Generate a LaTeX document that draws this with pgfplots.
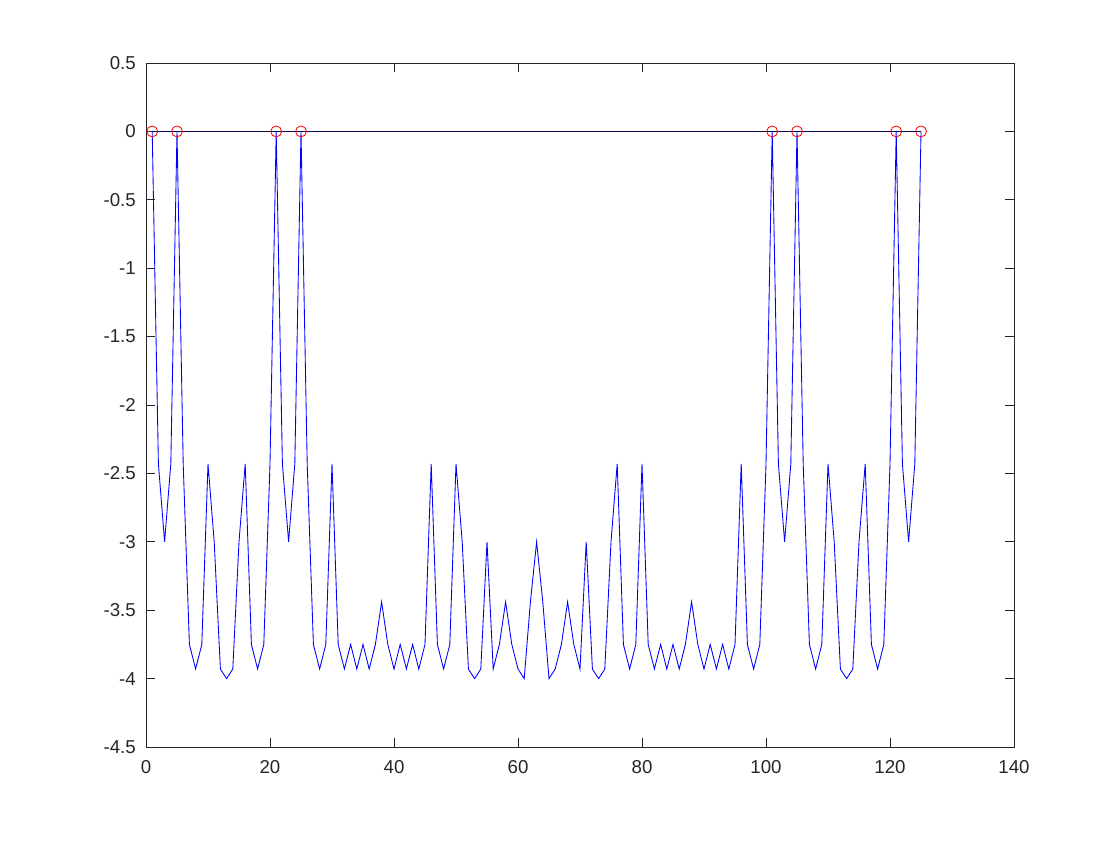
\documentclass[border=0pt]{standalone}
\usepackage{pgfplots}
\pgfplotsset{compat=1.18}
\usepackage{pgfplotstable}
\usepackage{fontspec}
\setmainfont{Liberation Sans}
\pgfplotstableread{
x y
1 0
2 -2.43
3 -3
4 -2.43
5 0
6 -2.43
7 -3.75
8 -3.93
9 -3.75
10 -2.43
11 -3
12 -3.93
13 -4
14 -3.93
15 -3
16 -2.43
17 -3.75
18 -3.93
19 -3.75
20 -2.43
21 0
22 -2.43
23 -3
24 -2.43
25 0
26 -2.43
27 -3.75
28 -3.93
29 -3.75
30 -2.43
31 -3.75
32 -3.93
33 -3.75
34 -3.93
35 -3.75
36 -3.93
37 -3.75
38 -3.44
39 -3.75
40 -3.93
41 -3.75
42 -3.93
43 -3.75
44 -3.93
45 -3.75
46 -2.43
47 -3.75
48 -3.93
49 -3.75
50 -2.43
51 -3
52 -3.93
53 -4
54 -3.93
55 -3
56 -3.93
57 -3.75
58 -3.44
59 -3.75
60 -3.93
61 -4
62 -3.44
63 -3
64 -3.44
65 -4
66 -3.93
67 -3.75
68 -3.44
69 -3.75
70 -3.93
71 -3
72 -3.93
73 -4
74 -3.93
75 -3
76 -2.43
77 -3.75
78 -3.93
79 -3.75
80 -2.43
81 -3.75
82 -3.93
83 -3.75
84 -3.93
85 -3.75
86 -3.93
87 -3.75
88 -3.44
89 -3.75
90 -3.93
91 -3.75
92 -3.93
93 -3.75
94 -3.93
95 -3.75
96 -2.43
97 -3.75
98 -3.93
99 -3.75
100 -2.43
101 0
102 -2.43
103 -3
104 -2.43
105 0
106 -2.43
107 -3.75
108 -3.93
109 -3.75
110 -2.43
111 -3
112 -3.93
113 -4
114 -3.93
115 -3
116 -2.43
117 -3.75
118 -3.93
119 -3.75
120 -2.43
121 0
122 -2.43
123 -3
124 -2.43
125 0
}\datatable
\pgfplotstableread{
x y
1 0
5 0
21 0
25 0
101 0
105 0
121 0
125 0
}\zerotable
\pgfplotstableread{
x y
1 0
125 0
}\baseline
\begin{document}
\begin{tikzpicture}
\useasboundingbox[fill=white] (0,0) rectangle (840pt,630pt);
\begin{axis}[
  at={(109.5pt,69.75pt)}, anchor=south west,
  width=651pt, height=513pt, scale only axis,
  xmin=0, xmax=140, ymin=-4.5, ymax=0.5,
  xtick={0,20,...,140},
  ytick={-4.5,-4,...,0.5},
  tick align=inside,
  major tick length=6.5pt,
  axis line style={line width=0.6pt, black!85},
  every tick/.style={line width=0.6pt, black!85},
  /pgf/number format/assume math mode=true,
  /pgf/number format/fixed,
  tick label style={font=\fontsize{14}{16}\selectfont, text=black!85},
  yticklabel style={inner sep=0pt, xshift=-7.5pt},
  xticklabel style={inner sep=0pt, yshift=-10pt},
  scaled ticks=false,
  clip=false,
]
\addplot[color={rgb,255:red,10;green,10;blue,90}, line width=0.6pt] table[x=x,y=y] {\baseline};
\addplot[color={rgb,255:red,0;green,0;blue,255}, line width=0.65pt] table[x=x,y=y] {\datatable};
\addplot[only marks, mark=o, mark size=4.1pt, mark options={color=red, line width=0.6pt}] table[x=x,y=y] {\zerotable};
\end{axis}
\end{tikzpicture}
\end{document}
